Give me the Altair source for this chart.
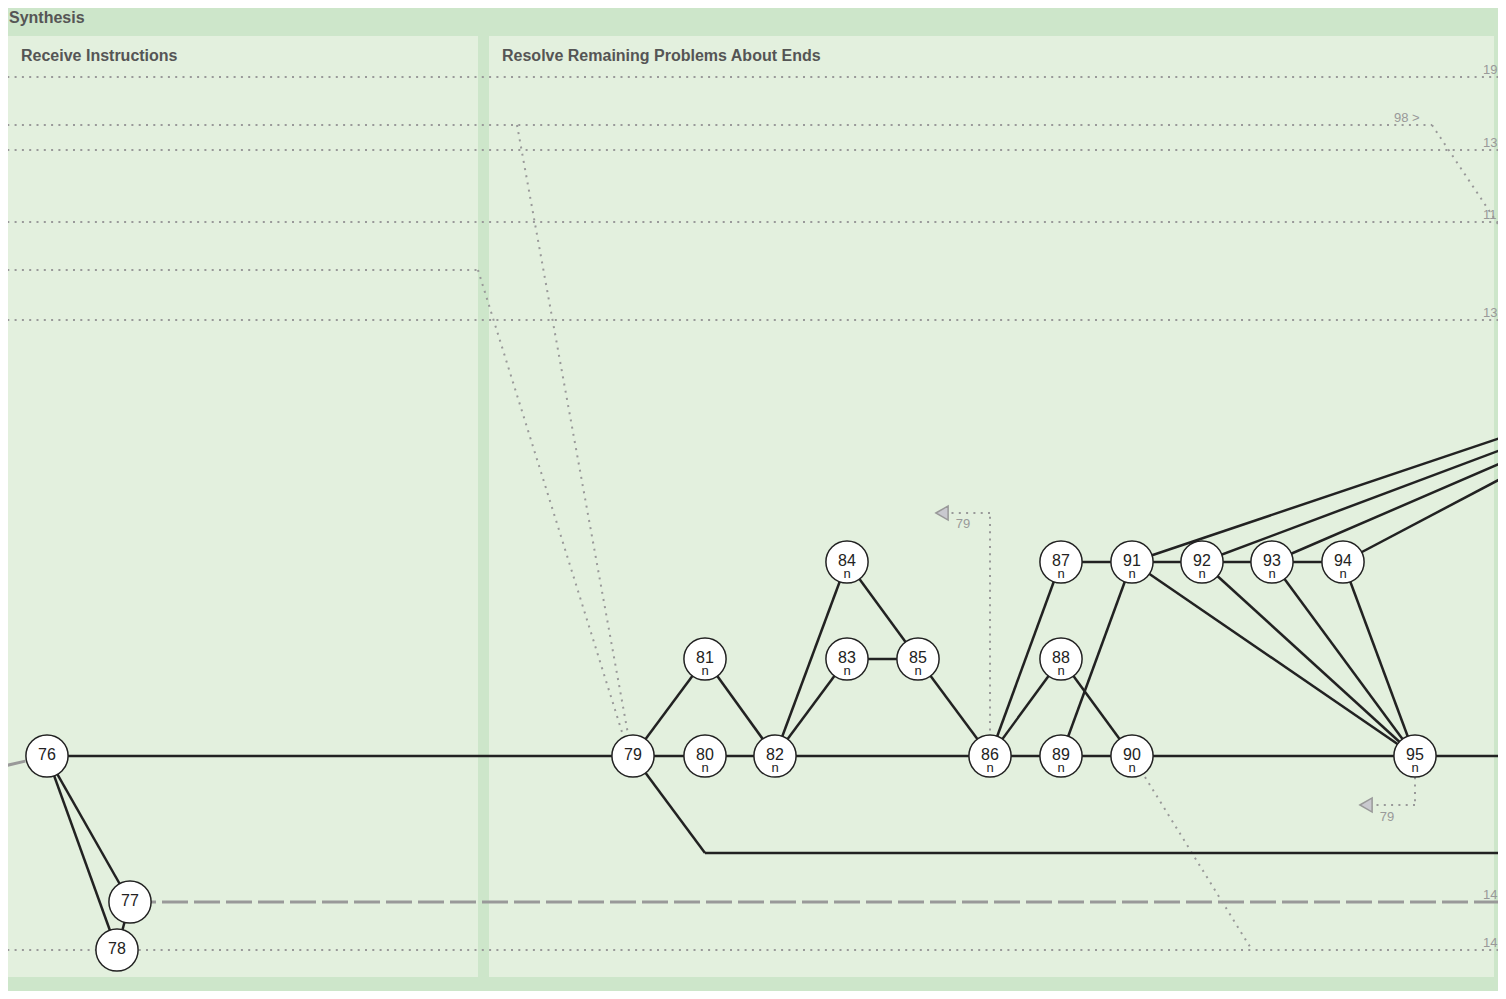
import altair as alt
import pandas as pd

# ---------------- data ----------------
# nodes (positions in diagram units)
node_ids = [76, 77, 78, 79, 80, 81, 82, 83, 84, 85, 86, 87, 88, 89, 90, 91, 92, 93, 94, 95]
node_x = [47, 130, 117, 633, 705, 705, 775, 847, 847, 918, 990, 1061, 1061, 1061, 1132, 1132, 1202, 1272, 1343, 1415]
node_y = [756, 902, 950, 756, 756, 659, 756, 659, 562, 659, 756, 562, 659, 756, 756, 562, 562, 562, 562, 756]
node_sub = ["", "", "", "", "n", "n", "n", "n", "n", "n", "n", "n", "n", "n", "n", "n", "n", "n", "n", "n"]

# solid edges between nodes
edge_from = [76, 76, 77, 76, 79, 80, 79, 81, 82, 82, 83, 84, 82, 85, 86, 86, 86, 89, 88, 89, 87, 91, 92, 93, 91, 92, 93, 94, 90]
edge_to = [77, 78, 78, 79, 80, 82, 81, 82, 84, 83, 85, 85, 86, 86, 87, 88, 89, 90, 90, 91, 91, 92, 93, 94, 95, 95, 95, 95, 95]

# solid edges leaving a node towards a point
ext_from = [79, 95, 91, 92, 93, 94]
ext_x = [705, 1506, 1506, 1506, 1506, 1506]
ext_y = [853, 756, 436, 448, 461, 476]

# free solid segments
free_x0 = [705]
free_y0 = [853]
free_x1 = [1506]
free_y1 = [853]

# dotted connections
dot_x0 = [0, 0, 1432, 517, 0, 0, 0, 478, 0, 0, 1145, 990, 990, 1415, 1415]
dot_y0 = [77, 125, 125, 125, 150, 222, 270, 270, 320, 950, 777, 745, 513, 770, 805]
dot_x1 = [1506, 1432, 1506, 630, 1506, 1506, 478, 626, 1506, 1506, 1252, 990, 950, 1415, 1376]
dot_y1 = [77, 125, 236, 745, 150, 222, 270, 745, 320, 950, 950, 513, 513, 805, 805]

# dashed connections
dash_x0 = [0, 130]
dash_y0 = [767, 902]
dash_x1 = [30, 1506]
dash_y1 = [760, 902]

# lane labels at the right edge
lane_lab = ["19", "13", "11", "13", "14", "14"]
lane_lab_x = [1483, 1483, 1483, 1483, 1483, 1483]
lane_lab_y = [77, 150, 222, 320, 902, 950]

# back-reference markers
mark_x = [942, 1366]
mark_y = [513, 805]
mark_lab = ["79", "79"]
mark_lab_x = [963, 1387]
mark_lab_y = [524, 817]

# forward reference
fwd_lab = ["98 >"]
fwd_x = [1394]
fwd_y = [118]

# panels
panel_names = ["Receive Instructions", "Resolve Remaining Problems About Ends"]
panel_x0 = [8, 489]
panel_x1 = [478, 1494]
panel_y0 = [36, 36]
panel_y1 = [977, 977]

title_text = ["Synthesis", "Receive Instructions", "Resolve Remaining Problems About Ends"]
title_x = [9, 21, 502]
title_y = [18, 56, 56]

# ---------------- build tables ----------------
pos = {i: (x, y) for i, x, y in zip(node_ids, node_x, node_y)}
nodes = pd.DataFrame({"id": node_ids, "x": node_x, "y": node_y, "sub": node_sub,
                      "lab": [str(i) for i in node_ids]})
solid_rows = []
for a, b in zip(edge_from, edge_to):
    solid_rows.append({"x": pos[a][0], "y": pos[a][1], "x2": pos[b][0], "y2": pos[b][1]})
for a, xx, yy in zip(ext_from, ext_x, ext_y):
    solid_rows.append({"x": pos[a][0], "y": pos[a][1], "x2": xx, "y2": yy})
for a, b, c, d in zip(free_x0, free_y0, free_x1, free_y1):
    solid_rows.append({"x": a, "y": b, "x2": c, "y2": d})
solid = pd.DataFrame(solid_rows)
dots = pd.DataFrame({"x": dot_x0, "y": dot_y0, "x2": dot_x1, "y2": dot_y1})
dashes = pd.DataFrame({"x": dash_x0, "y": dash_y0, "x2": dash_x1, "y2": dash_y1})
lanes = pd.DataFrame({"x": lane_lab_x, "y": lane_lab_y, "t": lane_lab})
marks = pd.DataFrame({"x": mark_x, "y": mark_y})
mlabs = pd.DataFrame({"x": mark_lab_x, "y": mark_lab_y, "t": mark_lab})
fwd = pd.DataFrame({"x": fwd_x, "y": fwd_y, "t": fwd_lab})
panels = pd.DataFrame({"x": panel_x0, "x2": panel_x1, "y": panel_y0, "y2": panel_y1})
titles = pd.DataFrame({"x": title_x, "y": title_y, "t": title_text})

# the page margin is 8px, so the plot shows diagram coordinates 8..1498 x 8..991 at 1:1
W, H = 1490, 983
XS = alt.Scale(domain=[8, 8 + W], nice=False, zero=False)
YS = alt.Scale(domain=[8, 8 + H], nice=False, zero=False, reverse=True)
X = alt.X("x:Q", scale=XS, axis=None)
Y = alt.Y("y:Q", scale=YS, axis=None)
X2 = alt.X2("x2:Q")
Y2 = alt.Y2("y2:Q")

FONT = "Liberation Sans"
GRAY = "#999999"

panel_layer = alt.Chart(panels).mark_rect(color="#e3f0de").encode(x=X, x2=X2, y=Y, y2=Y2)
title_layer = alt.Chart(titles).mark_text(
    align="left", baseline="middle", font=FONT, fontSize=16, fontWeight="bold", color="#555555"
).encode(x=X, y=Y, text="t:N")

dot_layer = alt.Chart(dots).mark_rule(
    color=GRAY, strokeWidth=2, strokeDash=[2, 5.3]
).encode(x=X, y=Y, x2=X2, y2=Y2)
dash_layer = alt.Chart(dashes).mark_rule(
    color=GRAY, strokeWidth=3, strokeDash=[26, 6]
).encode(x=X, y=Y, x2=X2, y2=Y2)
solid_layer = alt.Chart(solid).mark_rule(
    color="#222222", strokeWidth=2.5
).encode(x=X, y=Y, x2=X2, y2=Y2)

lane_layer = alt.Chart(lanes).mark_text(
    align="left", baseline="alphabetic", font=FONT, fontSize=13, color=GRAY, dy=-3
).encode(x=X, y=Y, text="t:N")
marker_layer = alt.Chart(marks).mark_point(
    shape="triangle-left", size=200, filled=True, fill="#c9c9cf", stroke=GRAY, strokeWidth=1.5, opacity=1
).encode(x=X, y=Y)
mlab_layer = alt.Chart(mlabs).mark_text(
    align="center", baseline="middle", font=FONT, fontSize=13, color=GRAY
).encode(x=X, y=Y, text="t:N")
fwd_layer = alt.Chart(fwd).mark_text(
    align="left", baseline="middle", font=FONT, fontSize=13, color=GRAY
).encode(x=X, y=Y, text="t:N")

node_layer = alt.Chart(nodes).mark_point(
    shape="circle", size=1780, filled=True, fill="white", stroke="#222222", strokeWidth=1.5, opacity=1
).encode(x=X, y=Y)
node_lab = alt.Chart(nodes).mark_text(
    align="center", baseline="middle", font=FONT, fontSize=16, color="#222222", dy=-1
).encode(x=X, y=Y, text="lab:N")
node_sub_layer = alt.Chart(nodes).mark_text(
    align="center", baseline="middle", font=FONT, fontSize=13, color="#222222", dy=12
).encode(x=X, y=Y, text="sub:N")

chart = alt.layer(
    panel_layer, title_layer,
    dot_layer, dash_layer, solid_layer,
    lane_layer, marker_layer, mlab_layer, fwd_layer,
    node_layer, node_lab, node_sub_layer,
).properties(
    width=W, height=H, padding=0, autosize=alt.AutoSizeParams(type="none"),
    background="#cde6ca",
).configure_view(strokeWidth=0)

chart.save("out.html", embed_options={"renderer": "svg", "actions": False})
